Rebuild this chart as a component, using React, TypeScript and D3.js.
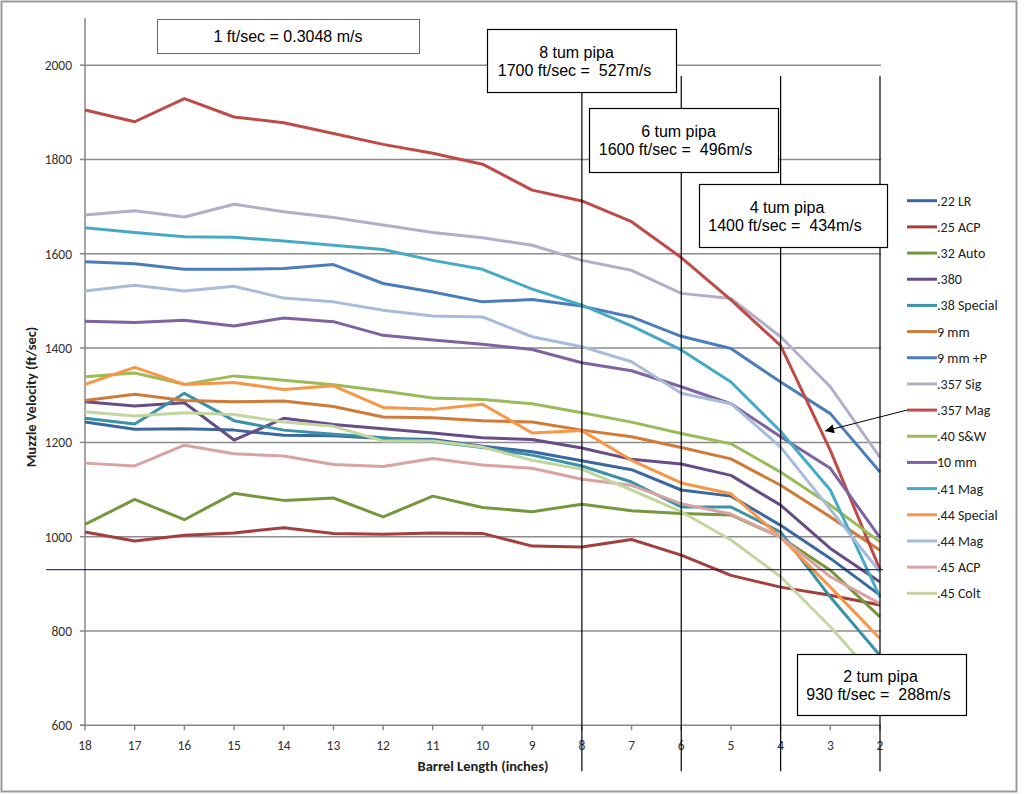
import React from 'react';
import * as d3 from 'd3';

// barrel lengths (inches), left to right
const barrel = [18, 17, 16, 15, 14, 13, 12, 11, 10, 9, 8, 7, 6, 5, 4, 3, 2];
const yTicks = [600, 800, 1000, 1200, 1400, 1600, 1800, 2000];

const cartridges = ['.22 LR', '.25 ACP', '.32 Auto', '.380', '.38 Special', '9 mm', '9 mm +P', '.357 Sig',
  '.357 Mag', '.40 S&W', '10 mm', '.41 Mag', '.44 Special', '.44 Mag', '.45 ACP', '.45 Colt'];

const lr22 = [1243, 1228, 1229, 1226, 1215, 1214, 1208, 1206, 1192, 1180, 1161, 1142, 1099, 1086, 1024, 954, 876];
const acp25 = [1010, 991, 1003, 1008, 1019, 1007, 1005, 1008, 1007, 980, 978, 994, 961, 918, 893, 876, 855];
const auto32 = [1026, 1079, 1036, 1092, 1077, 1082, 1042, 1086, 1062, 1053, 1069, 1055, 1049, 1046, 999, 929, 830];
const acp380 = [1286, 1277, 1284, 1205, 1251, 1238, 1229, 1220, 1210, 1206, 1188, 1164, 1154, 1130, 1067, 975, 904];
const special38 = [1251, 1239, 1304, 1246, 1226, 1217, 1210, 1202, 1189, 1173, 1150, 1116, 1063, 1063, 1010, 872, 748];
const mm9 = [1289, 1302, 1289, 1286, 1288, 1276, 1254, 1252, 1246, 1243, 1226, 1212, 1189, 1165, 1109, 1042, 971];
const mm9p = [1583, 1579, 1567, 1567, 1569, 1577, 1537, 1519, 1498, 1503, 1489, 1466, 1425, 1399, 1328, 1261, 1137];
const sig357 = [1682, 1691, 1678, 1705, 1689, 1677, 1661, 1645, 1634, 1618, 1586, 1565, 1516, 1505, 1424, 1318, 1168];
const mag357 = [1905, 1880, 1929, 1890, 1878, 1855, 1832, 1813, 1790, 1735, 1712, 1668, 1592, 1502, 1405, 1183, 930];
const sw40 = [1339, 1347, 1323, 1341, 1332, 1322, 1309, 1294, 1291, 1282, 1263, 1243, 1219, 1197, 1137, 1067, 989];
const mm10 = [1457, 1454, 1459, 1447, 1464, 1456, 1427, 1417, 1408, 1397, 1369, 1352, 1318, 1282, 1212, 1145, 998];
const mag41 = [1655, 1645, 1636, 1635, 1627, 1618, 1609, 1586, 1567, 1525, 1491, 1447, 1396, 1328, 1223, 1099, 872];
const special44 = [1323, 1359, 1323, 1327, 1312, 1320, 1274, 1270, 1281, 1220, 1225, 1162, 1114, 1091, 999, 893, 784];
const mag44 = [1521, 1533, 1521, 1531, 1506, 1498, 1480, 1468, 1466, 1424, 1403, 1371, 1304, 1282, 1190, 1058, 925];
const acp45 = [1156, 1150, 1194, 1176, 1171, 1153, 1149, 1166, 1152, 1145, 1122, 1109, 1070, 1048, 999, 915, 858];
const colt45 = [1265, 1256, 1263, 1259, 1243, 1234, 1203, 1203, 1190, 1162, 1143, 1099, 1053, 993, 915, 809, 690];

const seriesValues = [lr22, acp25, auto32, acp380, special38, mm9, mm9p, sig357, mag357, sw40, mm10, mag41,
  special44, mag44, acp45, colt45];

const colors = ['#3b68a0', '#a33f3c', '#77973d', '#664d85', '#3a91a8', '#d07a37', '#4a7ebb', '#b4adc9',
  '#be4b48', '#9bbb59', '#7e62a1', '#46aac5', '#f79646', '#a7bbda', '#d9a3a1', '#c4d6a0'];

// annotation boxes: barrel length marker and its text
const markers = [8, 6, 4, 2];
const boxTitles = ['8 tum pipa', '6 tum pipa', '4 tum pipa', '2 tum pipa'];
const boxLines = ['1700 ft/sec =  527m/s', '1600 ft/sec =  496m/s', '1400 ft/sec =  434m/s', '930 ft/sec =  288m/s'];
const limitSpeed = 930;

const W = 1024;
const H = 794;
const left = 85;
const right = 880;
const bottom = 725.3;
const top = 18;

const x = d3.scaleLinear().domain([18, 2]).range([left, right]);
const y = d3.scaleLinear().domain([600, 2100]).range([bottom, top]);

const line = d3.line<number>()
  .x((_, i) => x(barrel[i]))
  .y(d => y(d));

const calibri = 'Carlito, Lato, "Open Sans", sans-serif';
const arial = '"Liberation Sans", Arial, sans-serif';

// box geometry and text offsets
const boxes = [
  { x: 487, y: 29, w: 189, h: 63, dx1: -5, dx2: -7 },
  { x: 589, y: 108, w: 189, h: 64, dx1: -5, dx2: -8 },
  { x: 699, y: 184, w: 188, h: 63, dx1: -6, dx2: -8 },
  { x: 797, y: 654, w: 169, h: 61, dx1: -1, dx2: -3 },
];

export default function App() {
  const legendY = d3.scaleLinear().domain([0, 15]).range([200.7, 593.3]);
  return (
    <svg width={W} height={H} style={{ position: 'absolute', left: 0, top: 0, background: '#fff' }}>
      <defs>
        <marker id="arr" viewBox="0 0 10 10" refX="10" refY="5" markerWidth="14" markerHeight="9"
          markerUnits="userSpaceOnUse" orient="auto">
          <path d="M0,0 L10,5 L0,10 z" fill="#000" />
        </marker>
      </defs>
      <rect x={1.5} y={1.5} width={1015} height={790} fill="#fff" stroke="#9a9a9a" strokeWidth={2} />

      {/* grid */}
      {yTicks.slice(1).map(t => (
        <line key={t} x1={left} x2={right + 1} y1={y(t)} y2={y(t)} stroke="#8c8c8c" strokeWidth={1.5} />
      ))}
      {/* axes */}
      <line x1={left} x2={left} y1={top} y2={bottom} stroke="#868686" strokeWidth={1.5} />
      <line x1={left - 5} x2={right + 1} y1={bottom} y2={bottom} stroke="#868686" strokeWidth={1.5} />
      {yTicks.map(t => (
        <g key={t}>
          <line x1={left - 5} x2={left} y1={y(t)} y2={y(t)} stroke="#868686" strokeWidth={1.5} />
          <text x={left - 13} y={y(t) + 5} textAnchor="end" fontFamily={calibri} fontSize={13.5} fill="#333">{t}</text>
        </g>
      ))}
      {barrel.map(b => (
        <g key={b}>
          <line x1={x(b)} x2={x(b)} y1={bottom} y2={bottom + 5} stroke="#868686" strokeWidth={1.5} />
          <text x={x(b)} y={bottom + 24.5} textAnchor="middle" fontFamily={calibri} fontSize={13.5} fill="#333">{b}</text>
        </g>
      ))}
      <text transform="translate(36,397) rotate(-90)" textAnchor="middle"
        fontFamily={calibri} fontSize={14.5} fontWeight="bold" fill="#222">Muzzle Velocity (ft/sec)</text>
      <text x={483} y={771} textAnchor="middle" fontFamily={calibri} fontSize={14.5} fontWeight="bold" fill="#222">
        Barrel Length (inches)
      </text>

      {/* series */}
      {seriesValues.map((vals, i) => (
        <path key={cartridges[i]} d={line(vals) || ''} fill="none" stroke={colors[i]} strokeWidth={3}
          strokeLinejoin="round" />
      ))}

      {/* 930 ft/sec reference */}
      <line x1={46} x2={883} y1={y(limitSpeed)} y2={y(limitSpeed)} stroke="#00008b" strokeWidth={1} />

      {/* barrel length markers */}
      {markers.map(m => (
        <line key={m} x1={x(m)} x2={x(m)} y1={y(1977)} y2={bottom + 46} stroke="#000" strokeWidth={1.2} />
      ))}

      {/* legend */}
      {cartridges.map((c, i) => (
        <g key={c}>
          <line x1={907} x2={937} y1={legendY(i)} y2={legendY(i)} stroke={colors[i]} strokeWidth={3} />
          <text x={937} y={legendY(i) + 5} fontFamily={calibri} fontSize={14} fill="#222">{c}</text>
        </g>
      ))}
      <line x1={907} y1={legendY(8)} x2={825} y2={431} stroke="#000" strokeWidth={1} markerEnd="url(#arr)" />

      {/* annotation boxes */}
      <rect x={157.5} y={19.5} width={262} height={34} fill="#fff" stroke="#4a6aa8" strokeWidth={1} />
      <text x={288} y={41.5} textAnchor="middle" fontFamily={arial} fontSize={16} fill="#000">1 ft/sec = 0.3048 m/s</text>
      {boxes.map((b, i) => (
        <g key={i}>
          <rect x={b.x + 0.5} y={b.y + 0.5} width={b.w} height={b.h} fill="#fff" stroke="#000" strokeWidth={1.2} />
          <text x={b.x + b.w / 2 + b.dx1} y={b.y + b.h / 2 - 3} textAnchor="middle" fontFamily={arial} fontSize={16}
            fill="#000">{boxTitles[i]}</text>
          <text x={b.x + b.w / 2 + b.dx2} y={b.y + b.h / 2 + 15} textAnchor="middle" fontFamily={arial} fontSize={16}
            fill="#000" style={{ whiteSpace: 'pre' }}>{boxLines[i]}</text>
        </g>
      ))}
    </svg>
  );
}
